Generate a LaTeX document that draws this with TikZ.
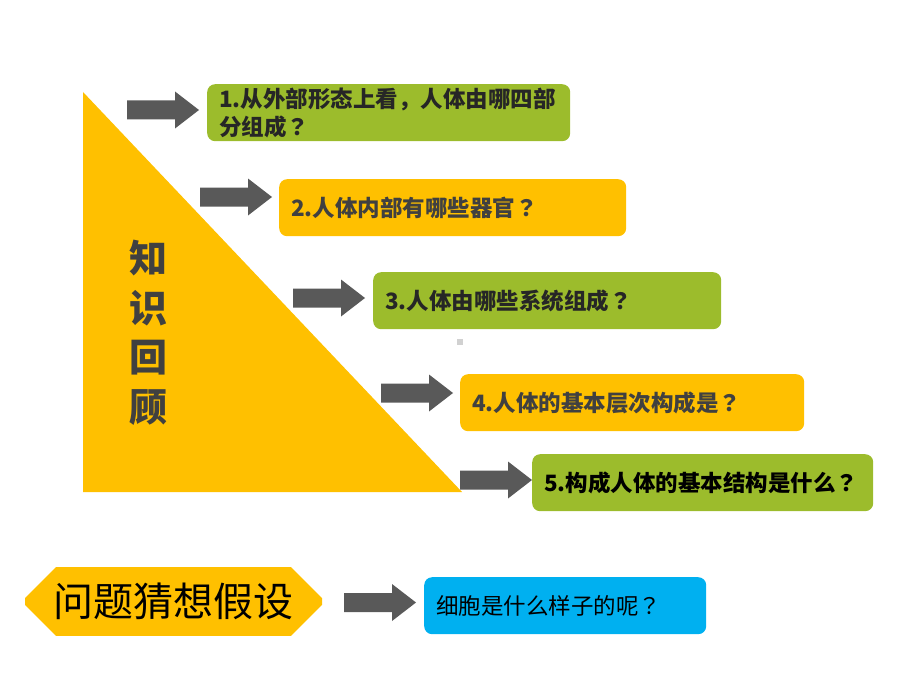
\documentclass[tikz,border=0pt]{standalone}
\usepackage{fontspec}
\setmainfont{Noto Sans CJK SC}
\newfontfamily\tcfont{Noto Sans CJK TC}
\newcommand\fq{{\tcfont ？}}
\usepackage{tikz}
\usetikzlibrary{shapes.misc}

\definecolor{qyellow}{HTML}{FFC000}
\definecolor{qgreen}{HTML}{9CBC2C}
\definecolor{qblue}{HTML}{00B0F0}
\definecolor{arrowgray}{HTML}{595959}
\definecolor{qdark}{HTML}{262626}
\definecolor{qgray}{HTML}{404040}

\tikzset{
  qbox/.style={rounded corners=8pt, anchor=north west, inner xsep=12pt, inner ysep=0pt,
    minimum height=57pt, align=left, font=\fontsize{22.5}{28}\selectfont\bfseries},
  blockarrow/.pic={\fill[arrowgray] (0,-9.5) -- (48,-9.5) -- (48,-18.5) -- (72,0)
    -- (48,18.5) -- (48,9.5) -- (0,9.5) -- cycle;}
}

\begin{document}
\begin{tikzpicture}[x=1pt,y=-1pt]
  \useasboundingbox (0,0) rectangle (920,690);

  % the big triangle
  \fill[qyellow] (83,92) -- (83,492) -- (462,492) -- cycle;
  \node[text=qgray, align=center, font=\fontsize{38}{49.5}\selectfont\bfseries] (review) at (148,333) {知\\识\\回\\顾};
  \fill[black!18] (457,339) rectangle (463,345);

  % questions
  \node[qbox, fill=qgreen, text=qdark, text width=339pt] (q1) at (207,84) {1.从外部形态上看，人体由哪四部\\分组成\fq};
  \node[qbox, fill=qyellow, text=qgray, text width=323pt] (q2) at (279,179) {2.人体内部有哪些器官\fq};
  \node[qbox, fill=qgreen, text=qdark, text width=324pt] (q3) at (373,272) {3.人体由哪些系统组成\fq};
  \node[qbox, fill=qyellow, text=qgray, text width=320pt] (q4) at (460,374) {4.人体的基本层次构成是\fq};
  \node[qbox, fill=qgreen, text=black, text width=317pt] (q5) at (532,454) {5.构成人体的基本结构是什么\fq};

  \pic (a1) at (127,110) {blockarrow};
  \pic (a2) at (200,197) {blockarrow};
  \pic (a3) at (293,298) {blockarrow};
  \pic (a4) at (381,393) {blockarrow};
  \pic (a5) at (460,480) {blockarrow};

  % hypothesis
  \node[chamfered rectangle, chamfered rectangle xsep=15pt, chamfered rectangle ysep=16pt,
    fill=qyellow, minimum width=297pt, minimum height=65pt, inner sep=0pt,
    font=\fontsize{40}{40}\selectfont] (guess) at (173.5,601.5) {问题猜想假设};
  \pic (a6) at (344,602.5) {blockarrow};
  \node[qbox, fill=qblue, text=black, text width=258pt, font=\fontsize{22.5}{28}\selectfont] (cell) at (424,577) {细胞是什么样子的呢\fq};
\end{tikzpicture}
\end{document}
